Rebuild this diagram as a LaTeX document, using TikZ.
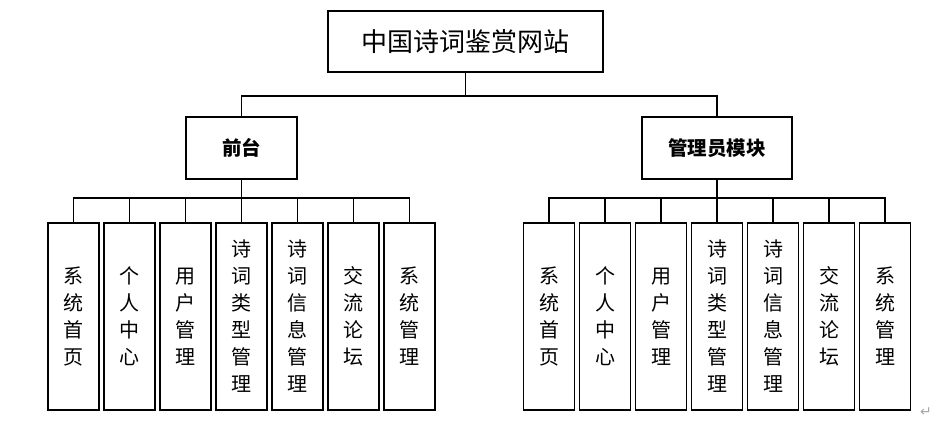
\documentclass[tikz,border=0pt]{standalone}
\usepackage{fontspec}
\newfontfamily\cjk{Noto Sans CJK SC}
\newfontfamily\symf{DejaVu Sans}
\begin{document}
\begin{tikzpicture}[x=1pt,y=-1pt,
  line width=1.6pt,
  box/.style={draw=black,fill=white,rectangle,inner sep=0pt,line width=1.6pt},
  topbox/.style={box,minimum width=275pt,minimum height=61pt,font=\cjk\fontsize{26}{30}\selectfont},
  midbox/.style={box,minimum height=62pt,font=\cjk\bfseries\fontsize{19.5}{23}\selectfont},
  leaf/.style={box,minimum width=51pt,minimum height=187pt,align=center,font=\cjk\fontsize{20}{27}\selectfont},
  conn/.style={draw=black,line width=1.6pt}]
\useasboundingbox (0,0) rectangle (947,425);
\node[topbox] (top) at (465.5,41.5) {中国诗词鉴赏网站};
\node[midbox,minimum width=111pt] (midL) at (241.5,148) {前台};
\node[midbox,minimum width=150pt] (midR) at (717,148) {管理员模块};
\coordinate (b0) at (465.5,96);
\draw[conn] (top.south) -- (b0);
\draw[conn] (midL.north) |- (b0) -| (midR.north);
\coordinate (bl) at (241.5,198);
\coordinate (br) at (717,198);
\draw[conn] (midL.south) -- (bl);
\draw[conn] (midR.south) -- (br);
\foreach \t [count=\i from 0] in {系\\统\\首\\页,个\\人\\中\\心,用\\户\\管\\理,诗\\词\\类\\型\\管\\理,诗\\词\\信\\息\\管\\理,交\\流\\论\\坛,系\\统\\管\\理}{
  \node[leaf] (L\i) at (73.5+56*\i,316.5) {\t};
  \node[leaf] (R\i) at (549+56*\i,316.5) {\t};
  \draw[conn] (bl) -| (L\i.north);
  \draw[conn] (br) -| (R\i.north);
}
\node[text=gray!70,font=\symf\fontsize{14}{14}\selectfont,inner sep=0pt] (ret) at (926,412) {↵};
\end{tikzpicture}
\end{document}
